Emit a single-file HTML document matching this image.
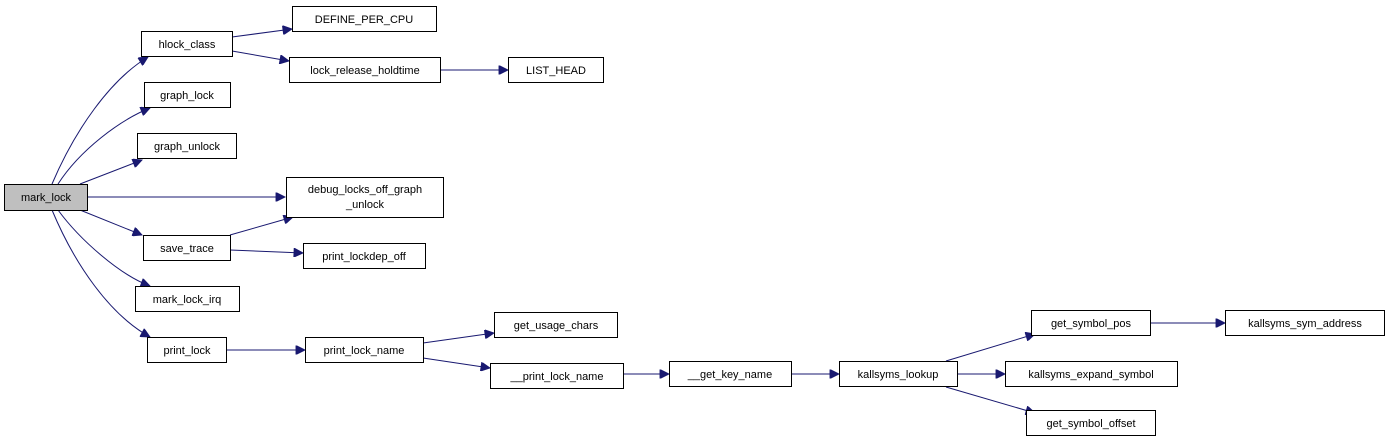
<!DOCTYPE html>
<html><head><meta charset="utf-8"><style>
html,body{margin:0;padding:0;background:#fff;}
svg{display:block;}
text{font-family:"Liberation Sans",Arial,sans-serif;font-size:11px;fill:#000;text-anchor:middle;}
rect{fill:#fff;stroke:#000;stroke-width:1;}
path{fill:none;stroke:#191970;stroke-width:1;}
</style></head><body>
<svg width="1389" height="443" viewBox="0 0 1389 443">
<defs><marker id="a" viewBox="0 0 10 10" refX="10" refY="5" markerWidth="12" markerHeight="9" markerUnits="userSpaceOnUse" orient="auto"><path d="M0,0L10,5L0,10z" style="fill:#191970;stroke:#191970"/></marker></defs>
<g>
<path d="M52,184 C75,130 110,80 148,57" marker-end="url(#a)"/>
<path d="M58,184 C80,150 120,120 150,108" marker-end="url(#a)"/>
<path d="M80,184 L142,160" marker-end="url(#a)"/>
<path d="M88,197 L285,197" marker-end="url(#a)"/>
<path d="M80,210 L142,235" marker-end="url(#a)"/>
<path d="M58,210 C80,240 120,275 150,286" marker-end="url(#a)"/>
<path d="M52,210 C75,265 110,315 150,337" marker-end="url(#a)"/>
<path d="M232,37 L292,29" marker-end="url(#a)"/>
<path d="M232,51 L289,61" marker-end="url(#a)"/>
<path d="M440,70 L508,70" marker-end="url(#a)"/>
<path d="M230,235 L293,217" marker-end="url(#a)"/>
<path d="M230,250 L303,253" marker-end="url(#a)"/>
<path d="M226,350 L305,350" marker-end="url(#a)"/>
<path d="M423,343 L494,333" marker-end="url(#a)"/>
<path d="M423,358 L490,368" marker-end="url(#a)"/>
<path d="M623,374 L669,374" marker-end="url(#a)"/>
<path d="M791,374 L839,374" marker-end="url(#a)"/>
<path d="M946,361 L1035,334" marker-end="url(#a)"/>
<path d="M957,374 L1005,374" marker-end="url(#a)"/>
<path d="M946,387 L1035,413" marker-end="url(#a)"/>
<path d="M1150,323 L1225,323" marker-end="url(#a)"/>
</g>
<rect x="4.5" y="184.5" width="83" height="26" style="fill:#bfbfbf"/><text x="46" y="201">mark_lock</text>
<rect x="141.5" y="31.5" width="91" height="25"/><text x="187" y="48">hlock_class</text>
<rect x="292.5" y="6.5" width="144" height="25"/><text x="364" y="23">DEFINE_PER_CPU</text>
<rect x="289.5" y="57.5" width="151" height="25"/><text x="365" y="74">lock_release_holdtime</text>
<rect x="508.5" y="57.5" width="95" height="25"/><text x="556" y="74">LIST_HEAD</text>
<rect x="144.5" y="82.5" width="86" height="25"/><text x="187" y="99">graph_lock</text>
<rect x="137.5" y="133.5" width="99" height="25"/><text x="187" y="150">graph_unlock</text>
<rect x="286.5" y="177.5" width="157" height="40"/><text x="365" y="193">debug_locks_off_graph</text><text x="365" y="208">_unlock</text>
<rect x="143.5" y="235.5" width="87" height="25"/><text x="187" y="252">save_trace</text>
<rect x="303.5" y="243.5" width="122" height="25"/><text x="364" y="260">print_lockdep_off</text>
<rect x="135.5" y="286.5" width="104" height="25"/><text x="187" y="303">mark_lock_irq</text>
<rect x="147.5" y="337.5" width="79" height="25"/><text x="187" y="354">print_lock</text>
<rect x="305.5" y="337.5" width="118" height="25"/><text x="364" y="354">print_lock_name</text>
<rect x="494.5" y="312.5" width="123" height="25"/><text x="556" y="329">get_usage_chars</text>
<rect x="490.5" y="363.5" width="133" height="25"/><text x="557" y="380">__print_lock_name</text>
<rect x="669.5" y="361.5" width="122" height="25"/><text x="730" y="378">__get_key_name</text>
<rect x="839.5" y="361.5" width="118" height="25"/><text x="898" y="378">kallsyms_lookup</text>
<rect x="1031.5" y="310.5" width="119" height="25"/><text x="1091" y="327">get_symbol_pos</text>
<rect x="1005.5" y="361.5" width="172" height="25"/><text x="1091" y="378">kallsyms_expand_symbol</text>
<rect x="1026.5" y="410.5" width="129" height="25"/><text x="1091" y="427">get_symbol_offset</text>
<rect x="1225.5" y="310.5" width="159" height="25"/><text x="1305" y="327">kallsyms_sym_address</text>
</svg>
</body></html>
